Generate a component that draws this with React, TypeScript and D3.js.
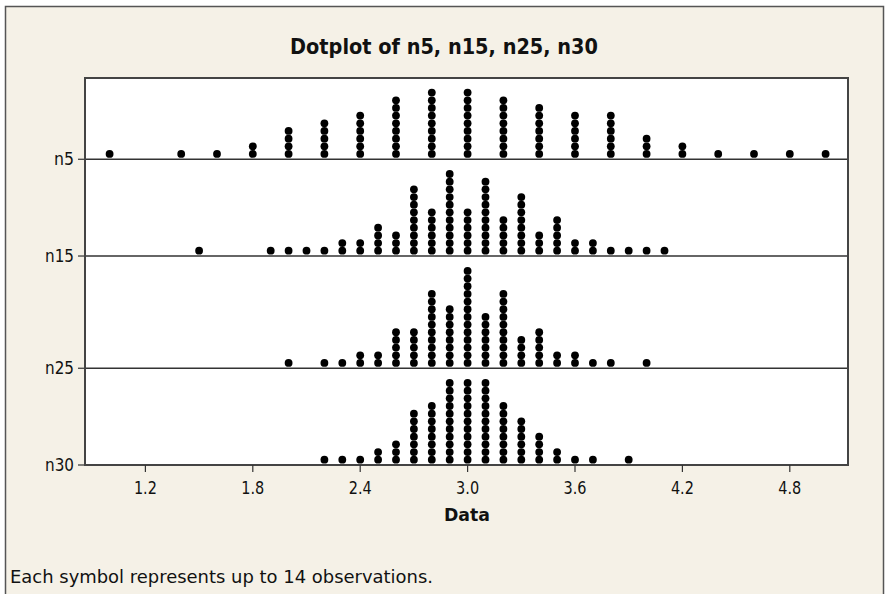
import React from "react";
import * as d3 from "d3";

const title = "Dotplot of n5, n15, n25, n30";
const xLabel = "Data";
const footnote = "Each symbol represents up to 14 observations.";
const xTicks = [1.2, 1.8, 2.4, 3.0, 3.6, 4.2, 4.8];
const seriesNames = ["n5", "n15", "n25", "n30"];

const n5Values = [1.0, 1.4, 1.6, 1.8, 2.0, 2.2, 2.4, 2.6, 2.8, 3.0, 3.2, 3.4, 3.6, 3.8, 4.0, 4.2, 4.4, 4.6, 4.8, 5.0];
const n5Counts = [1, 1, 1, 2, 4, 5, 6, 8, 9, 9, 8, 7, 6, 6, 3, 2, 1, 1, 1, 1];

const n15Values = [1.5, 1.9, 2.0, 2.1, 2.2, 2.3, 2.4, 2.5, 2.6, 2.7, 2.8, 2.9, 3.0, 3.1, 3.2, 3.3, 3.4, 3.5, 3.6, 3.7, 3.8, 3.9, 4.0, 4.1];
const n15Counts = [1, 1, 1, 1, 1, 2, 2, 4, 3, 9, 6, 11, 6, 10, 5, 8, 3, 5, 2, 2, 1, 1, 1, 1];

const n25Values = [2.0, 2.2, 2.3, 2.4, 2.5, 2.6, 2.7, 2.8, 2.9, 3.0, 3.1, 3.2, 3.3, 3.4, 3.5, 3.6, 3.7, 3.8, 4.0];
const n25Counts = [1, 1, 1, 2, 2, 5, 5, 10, 8, 13, 7, 10, 4, 5, 2, 2, 1, 1, 1];

const n30Values = [2.2, 2.3, 2.4, 2.5, 2.6, 2.7, 2.8, 2.9, 3.0, 3.1, 3.2, 3.3, 3.4, 3.5, 3.6, 3.7, 3.9];
const n30Counts = [1, 1, 1, 2, 3, 7, 8, 11, 11, 11, 8, 6, 4, 2, 1, 1, 1];

const seriesValues = [n5Values, n15Values, n25Values, n30Values];
const seriesCounts = [n5Counts, n15Counts, n25Counts, n30Counts];
// baseline positions of each panel, as fractions of the plot height
const panelBaselines = [0.21, 0.46, 0.75, 1.0];

const W = 888;
const H = 594;
const plot = { left: 85, right: 848, top: 78, bottom: 465 };
const FONT = "'DejaVu Sans', Verdana, sans-serif";

export default function App() {
  const xs = d3.scaleLinear().domain([1.2, 4.8]).range([145.4, 789.8]);
  const y = d3.scaleLinear().domain([0, 1]).range([plot.top, plot.bottom]);

  const r = 3.9;
  const step = 7.67;
  const firstOffset = 5.3;

  const dots: { cx: number; cy: number; key: string }[] = [];
  seriesNames.forEach((name, si) => {
    const base = y(panelBaselines[si]);
    seriesValues[si].forEach((v, i) => {
      const c = seriesCounts[si][i];
      for (let k = 0; k < c; k++) {
        dots.push({ cx: xs(v), cy: base - firstOffset - k * step, key: `${name}-${i}-${k}` });
      }
    });
  });

  return (
    <svg
      width={W}
      height={H}
      style={{ position: "absolute", left: 0, top: 0, display: "block" }}
    >
      <rect x={0} y={0} width={W} height={H} fill="#ffffff" />
      <rect x={5.5} y={6.5} width={878} height={H + 10} fill="#f5f1e7" stroke="#555" strokeWidth={1.5} />
      <text
        x={444}
        y={54}
        textAnchor="middle"
        fontFamily={FONT}
        fontWeight="bold"
        fontSize={21}
        textLength={308}
        lengthAdjust="spacingAndGlyphs"
        fill="#111"
      >
        {title}
      </text>
      <rect
        x={plot.left}
        y={plot.top}
        width={plot.right - plot.left}
        height={plot.bottom - plot.top}
        fill="#ffffff"
      />
      {seriesNames.map((name, si) => {
        const base = y(panelBaselines[si]);
        return (
          <g key={name}>
            <line x1={plot.left} x2={plot.right} y1={base} y2={base} stroke="#333" strokeWidth={1.5} />
            <line x1={78} x2={plot.left} y1={base} y2={base} stroke="#333" strokeWidth={1.2} />
            <text
              x={74}
              y={base + 6}
              textAnchor="end"
              fontFamily={FONT}
              fontSize={17}
              textLength={name.length === 2 ? 20 : 29}
              lengthAdjust="spacingAndGlyphs"
              fill="#111"
            >
              {name}
            </text>
          </g>
        );
      })}
      <rect
        x={plot.left}
        y={plot.top}
        width={plot.right - plot.left}
        height={plot.bottom - plot.top}
        fill="none"
        stroke="#444"
        strokeWidth={2}
      />
      {xTicks.map((t) => (
        <g key={t}>
          <line x1={xs(t)} x2={xs(t)} y1={plot.bottom} y2={plot.bottom + 7} stroke="#333" strokeWidth={1.2} />
          <text
            x={xs(t)}
            y={plot.bottom + 29}
            textAnchor="middle"
            fontFamily={FONT}
            fontSize={17}
            textLength={23}
            lengthAdjust="spacingAndGlyphs"
            fill="#111"
          >
            {t.toFixed(1)}
          </text>
        </g>
      ))}
      <text
        x={467}
        y={521}
        textAnchor="middle"
        fontFamily={FONT}
        fontWeight="bold"
        fontSize={18}
        textLength={46}
        lengthAdjust="spacingAndGlyphs"
        fill="#111"
      >
        {xLabel}
      </text>
      <text
        x={10}
        y={583}
        fontFamily={FONT}
        fontSize={18}
        textLength={423}
        lengthAdjust="spacingAndGlyphs"
        fill="#111"
      >
        {footnote}
      </text>
      {dots.map((d) => (
        <circle key={d.key} cx={d.cx} cy={d.cy} r={r} fill="#000" />
      ))}
    </svg>
  );
}
